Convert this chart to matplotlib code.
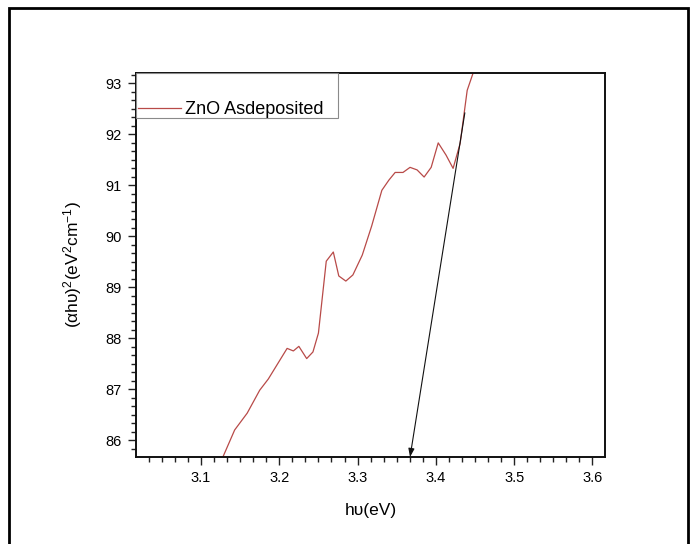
"""Tauc-style plot of ZnO as-deposited film with a tangent extrapolation arrow."""
import matplotlib
matplotlib.use("Agg")
import matplotlib.pyplot as plt
from matplotlib.patches import Rectangle
from matplotlib.ticker import MultipleLocator, AutoMinorLocator

plt.rcParams["font.family"] = ["Liberation Sans", "DejaVu Sans"]
plt.rcParams["mathtext.fontset"] = "custom"
plt.rcParams["mathtext.rm"] = "Liberation Sans"
plt.rcParams["mathtext.it"] = "Liberation Sans"

# data
hv = [3.126, 3.143, 3.159, 3.175, 3.186, 3.198, 3.210, 3.218, 3.225, 3.235,
      3.243, 3.250, 3.260, 3.269, 3.276, 3.285, 3.294, 3.306, 3.318, 3.331,
      3.340, 3.348, 3.358, 3.367, 3.376, 3.385, 3.394, 3.403, 3.413, 3.422,
      3.431, 3.440, 3.448]
ahv2 = [85.60, 86.20, 86.53, 86.98, 87.20, 87.50, 87.80, 87.75, 87.84, 87.60,
        87.73, 88.10, 89.51, 89.69, 89.22, 89.12, 89.24, 89.63, 90.20, 90.90,
        91.10, 91.25, 91.25, 91.35, 91.30, 91.16, 91.35, 91.83, 91.59, 91.33,
        91.82, 92.86, 93.22]
label = "ZnO Asdeposited"

# tangent line: top point on curve, foot on the energy axis
tan_top = (3.437, 92.42)
tan_foot = (3.367, 85.67)

xlim = (3.017, 3.616)
ylim = (85.67, 93.2)

fig = plt.figure(figsize=(6.9, 5.44), dpi=100)
ax = fig.add_axes([0.1971, 0.1599, 0.6797, 0.7059])

line, = ax.plot(hv, ahv2, color="#b84a48", lw=0.9, label=label)

ax.annotate("", xy=tan_foot, xytext=tan_top,
            arrowprops=dict(arrowstyle="-|>,head_length=0.5,head_width=0.18",
                            color="#111111", lw=0.8, shrinkA=0, shrinkB=0))

ax.set_xlim(*xlim)
ax.set_ylim(*ylim)
ax.xaxis.set_major_locator(MultipleLocator(0.1))
ax.xaxis.set_minor_locator(AutoMinorLocator(6))
ax.yaxis.set_major_locator(MultipleLocator(1))
ax.yaxis.set_minor_locator(AutoMinorLocator(6))
ax.tick_params(which="both", direction="out", top=False, right=False,
               labelsize=10.5, width=1.0, color="#222222")
ax.tick_params(which="major", length=6, pad=4)
ax.tick_params(which="minor", length=3.5)
for s in ax.spines.values():
    s.set_linewidth(1.4)
    s.set_color("#111111")

ax.set_xlabel("h\u03c5(eV)", fontsize=12.5)
ax.xaxis.set_label_coords(0.5, -0.138)
ax.xaxis.label.set_va("center")
ax.set_ylabel("(\u03b1h\u03c5)$^{2}$(eV$^{2}$cm$^{-1}$)", fontsize=12.5)
ax.yaxis.set_label_coords(-0.136, 0.5)
ax.yaxis.label.set_va("center")

# legend box parked in the upper-left corner, text sitting low in the box
ax.add_patch(Rectangle((0, 0.883), 0.431, 0.117, transform=ax.transAxes,
                       fill=False, edgecolor="#8a8a8a", lw=0.8, zorder=5))
ax.legend(handles=[line], loc="center left", bbox_to_anchor=(0.004, 0.904),
          frameon=False, fontsize=13, handlelength=2.4, handletextpad=0.2,
          borderpad=0, borderaxespad=0)

# outer frame of the pasted figure (bottom edge falls below the image)
fig.patches.append(Rectangle((9 / 690, -0.2), 679 / 690, 1.2 - 8 / 544,
                             transform=fig.transFigure, fill=False,
                             edgecolor="black", lw=2.0))

fig.savefig("out.png", dpi=100)
plt.close(fig)
